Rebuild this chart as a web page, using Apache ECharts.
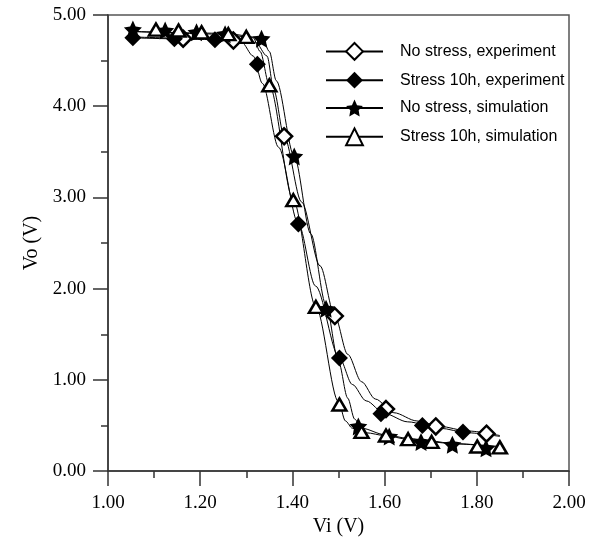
<!DOCTYPE html>
<html>
<head>
<meta charset="utf-8">
<script src="https://cdn.jsdelivr.net/npm/echarts@6/dist/echarts.min.js"></script>
<style>
html,body{margin:0;padding:0;background:#fff;}
#chart{width:593px;height:542px;}
</style>
</head>
<body>
<div id="chart"></div>
<script>
// ---- Data ----
var seriesNames = ['No stress, experiment', 'Stress 10h, experiment', 'No stress, simulation', 'Stress 10h, simulation'];

// Measured markers
var noStressExpVi = [1.163, 1.272, 1.382, 1.492, 1.603, 1.711, 1.821];
var noStressExpVo = [4.74, 4.72, 3.67, 1.70, 0.68, 0.49, 0.41];

var stressExpVi = [1.054, 1.144, 1.232, 1.324, 1.413, 1.502, 1.592, 1.682, 1.770];
var stressExpVo = [4.75, 4.74, 4.73, 4.46, 2.71, 1.24, 0.63, 0.50, 0.43];

var noStressSimVi = [1.054, 1.124, 1.192, 1.254, 1.333, 1.404, 1.473, 1.543, 1.610, 1.679, 1.747, 1.820];
var noStressSimVo = [4.84, 4.83, 4.81, 4.79, 4.74, 3.45, 1.78, 0.49, 0.38, 0.32, 0.29, 0.25];

var stressSimVi = [1.104, 1.153, 1.203, 1.261, 1.300, 1.350, 1.402, 1.451, 1.502, 1.550, 1.603, 1.651, 1.702, 1.801, 1.850];
var stressSimVo = [4.84, 4.83, 4.81, 4.79, 4.76, 4.23, 2.97, 1.80, 0.73, 0.43, 0.39, 0.35, 0.32, 0.27, 0.26];

// Fitted curves
var noStressExpCurveVi = [1.05, 1.25, 1.32, 1.345, 1.36, 1.382, 1.42, 1.46, 1.492, 1.52, 1.55, 1.58, 1.62, 1.67, 1.72, 1.78, 1.85];
var noStressExpCurveVo = [4.75, 4.73, 4.70, 4.55, 4.17, 3.67, 2.95, 2.25, 1.70, 1.28, 0.98, 0.79, 0.64, 0.55, 0.49, 0.44, 0.39];

var stressExpCurveVi = [1.05, 1.22, 1.29, 1.315, 1.335, 1.37, 1.413, 1.45, 1.502, 1.53, 1.56, 1.60, 1.65, 1.72, 1.78, 1.85];
var stressExpCurveVo = [4.76, 4.74, 4.70, 4.55, 4.25, 3.55, 2.71, 2.03, 1.24, 0.95, 0.77, 0.63, 0.54, 0.47, 0.42, 0.38];

var noStressSimCurveVi = [1.05, 1.25, 1.335, 1.35, 1.365, 1.404, 1.44, 1.473, 1.50, 1.52, 1.535, 1.55, 1.60, 1.65, 1.70, 1.75, 1.85];
var noStressSimCurveVo = [4.82, 4.80, 4.75, 4.60, 4.28, 3.45, 2.60, 1.82, 1.20, 0.80, 0.57, 0.47, 0.40, 0.36, 0.33, 0.30, 0.27];

var stressSimCurveVi = [1.05, 1.25, 1.315, 1.33, 1.35, 1.402, 1.451, 1.50, 1.515, 1.53, 1.56, 1.60, 1.65, 1.70, 1.75, 1.85];
var stressSimCurveVo = [4.82, 4.79, 4.75, 4.60, 4.23, 2.97, 1.80, 0.76, 0.55, 0.47, 0.42, 0.39, 0.35, 0.32, 0.30, 0.26];

// Axis ticks
var xMin = 1.0, xMax = 2.0, xStep = 0.2;
var yMin = 0, yMax = 5, yStep = 1;

function pairs(xs, ys) { return xs.map(function (x, i) { return [x, ys[i]]; }); }

var starPath = 'path://M12,0.5L15.2,7.1L22.5,8.1L17.2,13.2L18.5,20.5L12,17L5.5,20.5L6.8,13.2L1.5,8.1L8.8,7.1Z';

var defs = [
  { curve: pairs(noStressExpCurveVi, noStressExpCurveVo), pts: pairs(noStressExpVi, noStressExpVo), symbol: 'diamond', size: 16, fill: '#fff' },
  { curve: pairs(stressExpCurveVi, stressExpCurveVo), pts: pairs(stressExpVi, stressExpVo), symbol: 'diamond', size: 17, fill: '#000' },
  { curve: pairs(noStressSimCurveVi, noStressSimCurveVo), pts: pairs(noStressSimVi, noStressSimVo), symbol: starPath, size: 18, fill: '#000' },
  { curve: pairs(stressSimCurveVi, stressSimCurveVo), pts: pairs(stressSimVi, stressSimVo), symbol: 'triangle', size: [14, 12], fill: '#fff' }
];

var series = [];
defs.forEach(function (d, i) {
  series.push({
    name: seriesNames[i],
    type: 'line',
    data: d.curve,
    smooth: 0.3,
    smoothMonotone: 'x',
    showSymbol: false,
    symbol: d.symbol,
    symbolSize: d.size,
    lineStyle: { color: '#000', width: 1 },
    itemStyle: { color: d.fill, borderColor: '#000', borderWidth: d.fill === '#fff' ? 2.5 : 0 },
    silent: true,
    z: 2
  });
});
defs.forEach(function (d, i) {
  series.push({
    name: seriesNames[i],
    type: 'scatter',
    data: d.pts,
    symbol: d.symbol,
    symbolSize: d.size,
    itemStyle: { color: d.fill, borderColor: '#000', borderWidth: d.fill === '#fff' ? 2.5 : 0, opacity: 1 },
    silent: true,
    z: 3
  });
});

var chart = echarts.init(document.getElementById('chart'), null, { renderer: 'canvas' });
chart.setOption({
  animation: false,
  backgroundColor: '#fff',
  grid: { left: 108, right: 24, top: 15, bottom: 68, show: true, borderColor: '#555', borderWidth: 1.5, backgroundColor: 'transparent' },
  legend: {
    data: seriesNames,
    orient: 'vertical',
    left: 325,
    top: 42,
    padding: 0,
    itemWidth: 57,
    itemHeight: 21,
    itemGap: 11,
    textStyle: { fontFamily: 'Liberation Sans', fontSize: 16, color: '#000', padding: [0, 0, 0, 12] },
    selectedMode: false
  },
  xAxis: {
    type: 'value',
    min: xMin, max: xMax, interval: xStep,
    name: 'Vi (V)',
    nameLocation: 'middle',
    nameGap: 44,
    nameTextStyle: { fontFamily: 'Liberation Serif', fontSize: 20, color: '#000' },
    axisLine: { show: true, onZero: false, lineStyle: { color: '#333', width: 1.5 } },
    axisTick: { show: true, inside: false, length: 15, lineStyle: { color: '#333', width: 1.5 } },
    minorTick: { show: true, splitNumber: 2, length: 7, lineStyle: { color: '#333', width: 1.5 } },
    splitLine: { show: false },
    axisLabel: { fontFamily: 'Liberation Serif', fontSize: 19, color: '#000', margin: 22, formatter: function (v) { return v.toFixed(2); } }
  },
  yAxis: {
    type: 'value',
    min: yMin, max: yMax, interval: yStep,
    name: 'Vo (V)',
    nameLocation: 'middle',
    nameGap: 65,
    nameTextStyle: { fontFamily: 'Liberation Serif', fontSize: 20, color: '#000' },
    axisLine: { show: true, onZero: false, lineStyle: { color: '#333', width: 1.5 } },
    axisTick: { show: true, inside: false, length: 15, lineStyle: { color: '#333', width: 1.5 } },
    minorTick: { show: true, splitNumber: 2, length: 7, lineStyle: { color: '#333', width: 1.5 } },
    splitLine: { show: false },
    axisLabel: { fontFamily: 'Liberation Serif', fontSize: 19, color: '#000', margin: 22, formatter: function (v) { return v.toFixed(2); } }
  },
  series: series
});
</script>
</body>
</html>
